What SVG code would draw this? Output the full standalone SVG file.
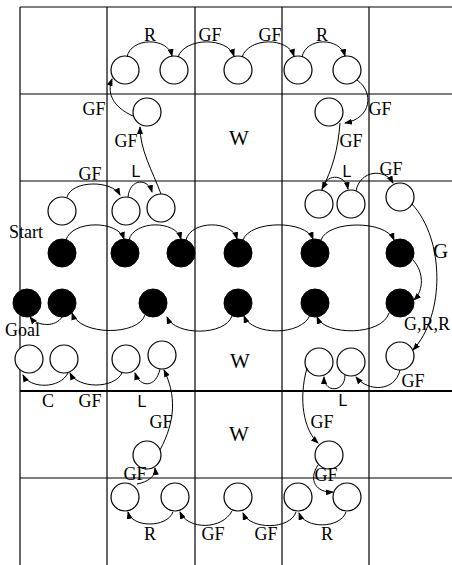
<svg xmlns="http://www.w3.org/2000/svg" width="452" height="565" viewBox="0 0 452 565">
<style>
.g{stroke:#000;stroke-width:1.2;fill:none}
.n{fill:#fff;stroke:#000;stroke-width:1.2}
.b{fill:#000;stroke:#000;stroke-width:1}
.c{fill:none;stroke:#000;stroke-width:1;marker-end:url(#ah)}
text{font-family:"Liberation Serif","Times New Roman",serif;font-size:18px;fill:#000}
.s{font-family:"Liberation Sans",Arial,sans-serif;font-size:16px}
.big{font-size:21px}
</style>
<defs>
<marker id="ah" markerWidth="8" markerHeight="6" refX="7" refY="3" orient="auto" markerUnits="userSpaceOnUse"><path d="M0,0 L8,3 L0,6 z" fill="#000"/></marker>
</defs>
<rect width="452" height="565" fill="#fff"/>
<g id="grid">
<line class="g" x1="20" y1="7" x2="452" y2="7"/>
<line class="g" x1="20" y1="94" x2="452" y2="94"/>
<line class="g" x1="20" y1="181" x2="452" y2="181"/>
<line class="g" x1="20" y1="391" x2="452" y2="391" style="stroke-width:2"/>
<line class="g" x1="20" y1="478" x2="452" y2="478"/>
<line class="g" x1="20" y1="7" x2="20" y2="565"/>
<line class="g" x1="107" y1="7" x2="107" y2="565"/>
<line class="g" x1="195" y1="7" x2="195" y2="565"/>
<line class="g" x1="282" y1="7" x2="282" y2="565"/>
<line class="g" x1="369" y1="7" x2="369" y2="565"/>
</g>
<g id="t1"><circle class="n" cx="125" cy="70" r="14"/></g>
<g id="t2"><circle class="n" cx="174" cy="70" r="14"/></g>
<g id="t3"><circle class="n" cx="238" cy="70" r="14"/></g>
<g id="t4"><circle class="n" cx="298" cy="70" r="14"/></g>
<g id="t5"><circle class="n" cx="347" cy="70" r="14"/></g>
<g id="u1"><circle class="n" cx="147" cy="112" r="14"/></g>
<g id="u2"><circle class="n" cx="329" cy="112" r="14"/></g>
<g id="v1"><circle class="n" cx="62" cy="211" r="14"/></g>
<g id="v2"><circle class="n" cx="126" cy="211" r="14"/></g>
<g id="v3"><circle class="n" cx="161" cy="208" r="14"/></g>
<g id="v4"><circle class="n" cx="319" cy="204" r="14"/></g>
<g id="v5"><circle class="n" cx="351" cy="204" r="14"/></g>
<g id="v6"><circle class="n" cx="400" cy="197" r="14"/></g>
<g id="a1"><circle class="b" cx="62" cy="253" r="14"/></g>
<g id="a2"><circle class="b" cx="125" cy="253" r="14"/></g>
<g id="a3"><circle class="b" cx="181" cy="253" r="14"/></g>
<g id="a4"><circle class="b" cx="238" cy="253" r="14"/></g>
<g id="a5"><circle class="b" cx="315" cy="253" r="14"/></g>
<g id="a6"><circle class="b" cx="400" cy="253" r="14"/></g>
<g id="b1"><circle class="b" cx="27" cy="303" r="14"/></g>
<g id="b2"><circle class="b" cx="62" cy="303" r="14"/></g>
<g id="b3"><circle class="b" cx="153" cy="303" r="14"/></g>
<g id="b4"><circle class="b" cx="238" cy="303" r="14"/></g>
<g id="b5"><circle class="b" cx="315" cy="303" r="14"/></g>
<g id="b6"><circle class="b" cx="400" cy="303" r="14"/></g>
<g id="w1"><circle class="n" cx="29" cy="359" r="14"/></g>
<g id="w2"><circle class="n" cx="64" cy="359" r="14"/></g>
<g id="w3"><circle class="n" cx="126" cy="359" r="14"/></g>
<g id="w4"><circle class="n" cx="162" cy="355" r="14"/></g>
<g id="w5"><circle class="n" cx="319" cy="362" r="14"/></g>
<g id="w6"><circle class="n" cx="351" cy="362" r="14"/></g>
<g id="w7"><circle class="n" cx="400" cy="356" r="14"/></g>
<g id="x1"><circle class="n" cx="147" cy="455" r="14"/></g>
<g id="x2"><circle class="n" cx="329" cy="455" r="14"/></g>
<g id="y1"><circle class="n" cx="125" cy="497" r="14"/></g>
<g id="y2"><circle class="n" cx="175" cy="497" r="14"/></g>
<g id="y3"><circle class="n" cx="238" cy="497" r="14"/></g>
<g id="y4"><circle class="n" cx="298" cy="497" r="14"/></g>
<g id="y5"><circle class="n" cx="347" cy="497" r="14"/></g>
<g id="connectors">
<path class="c" d="M127,57 C131,37 168,37 172,56"/>
<path class="c" d="M178,57 C185,37 228,37 234,56"/>
<path class="c" d="M242,57 C249,37 288,37 294,56"/>
<path class="c" d="M302,57 C306,37 340,37 345,56"/>
<path class="c" d="M357,80 C374,92 372,118 345,123"/>
<path class="c" d="M340,123 C338,150 332,170 322,189"/>
<path class="c" d="M322,191 C324,173 345,173 348,189"/>
<path class="c" d="M356,191 C360,170 385,168 393,183"/>
<path class="c" d="M412,204 C445,240 445,315 413,350"/>
<path class="c" d="M413,260 C424,272 424,290 414,300"/>
<path class="c" d="M66,240 C72,220 118,220 124,239"/>
<path class="c" d="M129,240 C134,220 176,220 181,239"/>
<path class="c" d="M186,240 C191,220 232,220 237,239"/>
<path class="c" d="M243,240 C250,220 306,220 313,239"/>
<path class="c" d="M321,240 C328,220 386,220 394,240"/>
<path class="c" d="M389,313 C382,336 325,336 317,317"/>
<path class="c" d="M310,315 C302,336 252,336 244,316"/>
<path class="c" d="M232,316 C225,336 175,336 167,317"/>
<path class="c" d="M145,315 C138,336 80,336 72,313"/>
<path class="c" d="M62,317 C56,327 38,327 30,317"/>
<path class="c" d="M67,197 C72,180 112,180 120,195"/>
<path class="c" d="M128,197 C130,178 148,178 152,192"/>
<path class="c" d="M161,194 C152,170 140,150 140,127"/>
<path class="c" d="M133,116 C115,108 106,95 112,79"/>
<path class="c" d="M68,373 C60,389 30,389 23,375"/>
<path class="c" d="M122,373 C114,389 78,389 70,373"/>
<path class="c" d="M160,369 C156,388 140,388 135,373"/>
<path class="c" d="M160,450 C176,420 176,395 164,370"/>
<path class="c" d="M137,484 C148,482 156,476 155,468"/>
<path class="c" d="M173,512 C167,528 132,528 128,512"/>
<path class="c" d="M232,511 C222,530 188,530 180,512"/>
<path class="c" d="M296,512 C290,530 250,530 243,513"/>
<path class="c" d="M346,512 C340,529 305,529 299,513"/>
<path class="c" d="M318,465 C308,480 316,493 333,492"/>
<path class="c" d="M307,368 C298,400 304,430 318,443"/>
<path class="c" d="M345,375 C345,393 324,393 324,377"/>
<path class="c" d="M400,370 C395,392 368,392 356,377"/>
</g>
<g id="labels">
<text x="150" y="41" text-anchor="middle">R</text>
<text x="210" y="41" text-anchor="middle">GF</text>
<text x="270" y="41" text-anchor="middle">GF</text>
<text x="322" y="41" text-anchor="middle">R</text>
<text x="94" y="115" text-anchor="middle">GF</text>
<text x="126" y="147" text-anchor="middle">GF</text>
<text x="380" y="115" text-anchor="middle">GF</text>
<text x="351" y="147" text-anchor="middle">GF</text>
<text x="239" y="145" text-anchor="middle" class="big">W</text>
<text x="90" y="180" text-anchor="middle">GF</text>
<text x="136" y="177" text-anchor="middle" class="s">L</text>
<text x="347" y="177" text-anchor="middle" class="s">L</text>
<text x="391" y="175" text-anchor="middle">GF</text>
<text x="9" y="238">Start</text>
<text x="433" y="258" class="big">G</text>
<text x="404" y="330">G,R,R</text>
<text x="5" y="336">Goal</text>
<text x="240" y="368" text-anchor="middle" class="big">W</text>
<text x="413" y="387" text-anchor="middle">GF</text>
<text x="343" y="406" text-anchor="middle" class="s">L</text>
<text x="48" y="407" text-anchor="middle">C</text>
<text x="90" y="407" text-anchor="middle">GF</text>
<text x="142" y="407" text-anchor="middle" class="s">L</text>
<text x="161" y="428" text-anchor="middle">GF</text>
<text x="322" y="428" text-anchor="middle">GF</text>
<text x="239" y="441" text-anchor="middle" class="big">W</text>
<text x="135" y="480" text-anchor="middle">GF</text>
<text x="326" y="481" text-anchor="middle">GF</text>
<text x="150" y="540" text-anchor="middle">R</text>
<text x="213" y="540" text-anchor="middle">GF</text>
<text x="266" y="540" text-anchor="middle">GF</text>
<text x="327" y="540" text-anchor="middle">R</text>
</g>
</svg>
